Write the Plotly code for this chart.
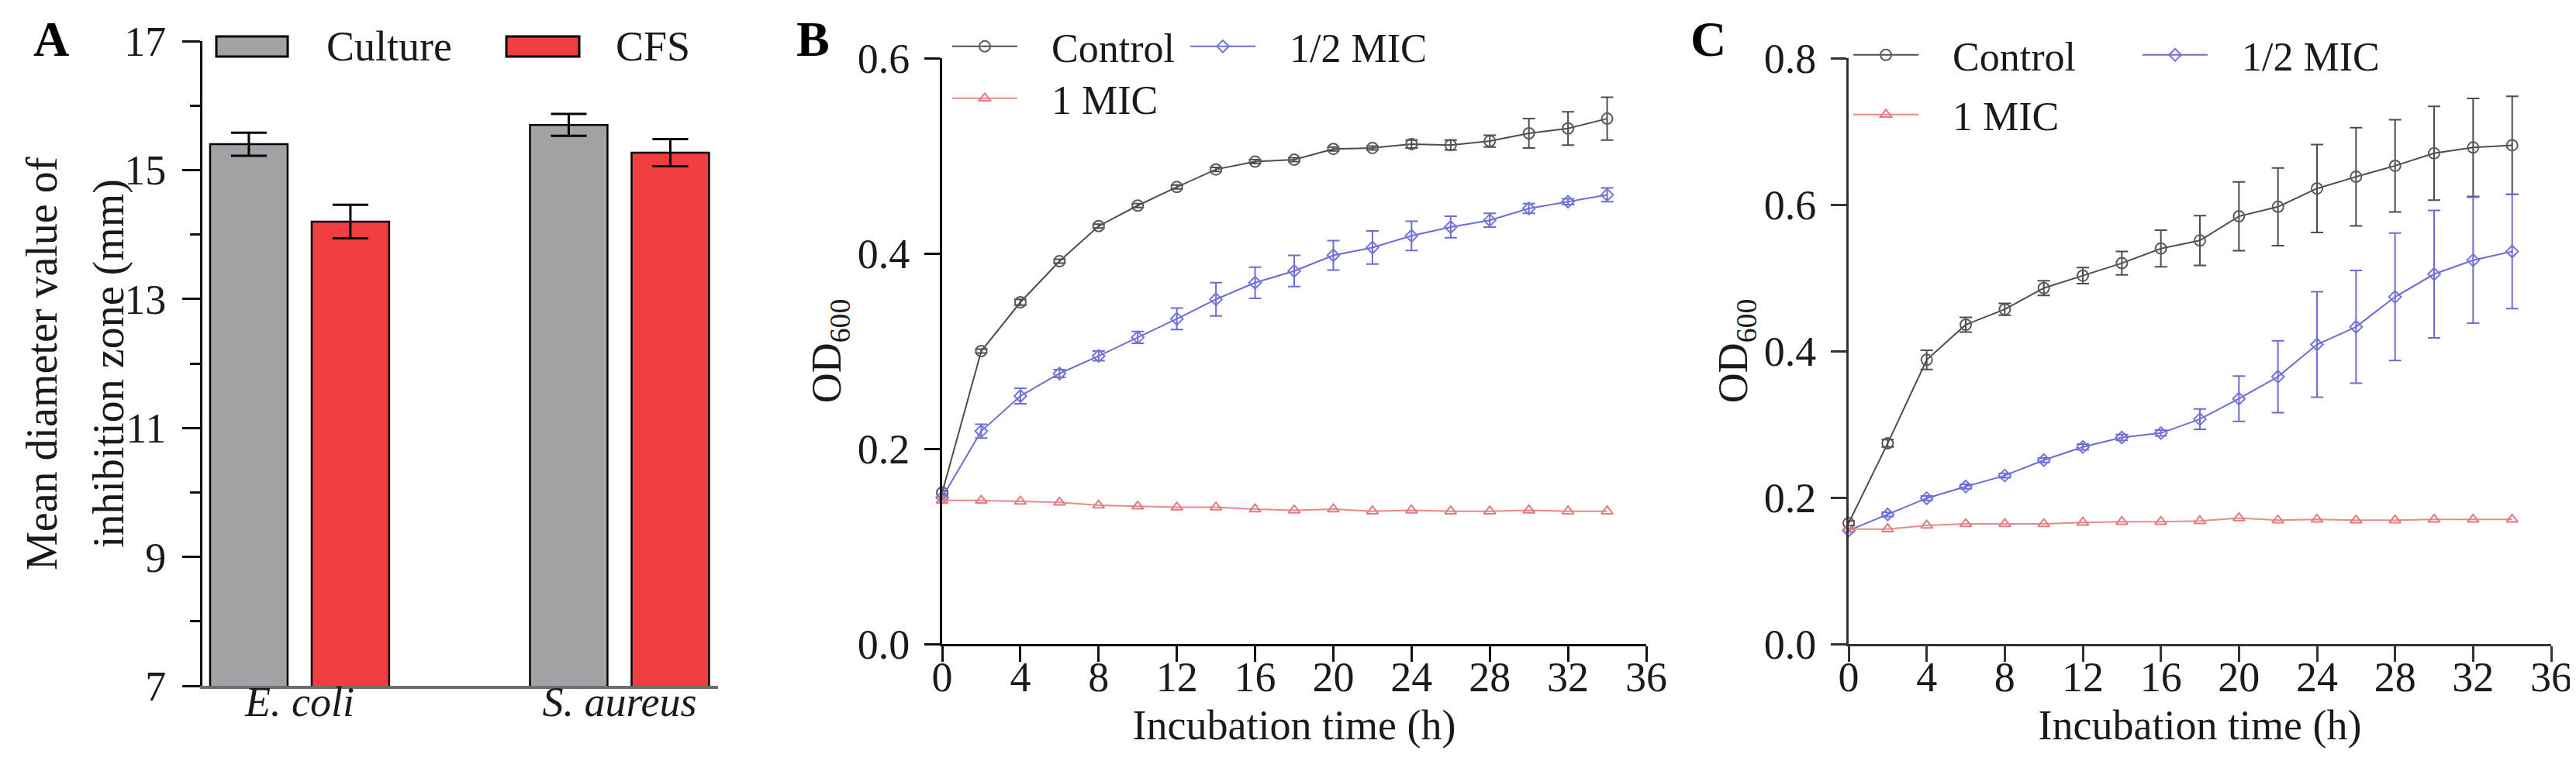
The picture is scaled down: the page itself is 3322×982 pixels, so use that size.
import plotly.graph_objects as go

# ---- panel A: inhibition zone diameters ----
strains = ["<i>E. coli</i>", "<i>S. aureus</i>"]
culture_mean = [15.40, 15.70]
culture_err = [0.18, 0.17]
cfs_mean = [14.20, 15.27]
cfs_err = [0.26, 0.21]

# ---- panels B and C: growth curves ----
hours = [0, 2, 4, 6, 8, 10, 12, 14, 16, 18, 20, 22, 24, 26, 28, 30, 32, 34]

b_control = [0.155, 0.300, 0.350, 0.392, 0.428, 0.449, 0.468, 0.486, 0.494, 0.496,
             0.507, 0.508, 0.512, 0.511, 0.515, 0.523, 0.528, 0.538]
b_control_err = [0.002, 0.002, 0.003, 0.002, 0.002, 0.002, 0.002, 0.002, 0.002, 0.002,
                 0.002, 0.002, 0.004, 0.005, 0.006, 0.015, 0.017, 0.022]
b_half = [0.150, 0.218, 0.254, 0.277, 0.295, 0.314, 0.333, 0.353, 0.370, 0.382,
          0.398, 0.406, 0.418, 0.427, 0.434, 0.446, 0.453, 0.460]
b_half_err = [0.002, 0.007, 0.008, 0.004, 0.005, 0.006, 0.011, 0.017, 0.016, 0.016,
              0.015, 0.017, 0.015, 0.011, 0.007, 0.005, 0.003, 0.007]
b_one = [0.147, 0.147, 0.146, 0.145, 0.142, 0.141, 0.140, 0.140, 0.138, 0.137,
         0.138, 0.136, 0.137, 0.136, 0.136, 0.137, 0.136, 0.136]

c_control = [0.165, 0.274, 0.388, 0.436, 0.457, 0.486, 0.503, 0.520, 0.540, 0.551,
             0.584, 0.597, 0.622, 0.638, 0.653, 0.670, 0.678, 0.681]
c_control_err = [0.003, 0.005, 0.013, 0.010, 0.008, 0.010, 0.011, 0.016, 0.025, 0.034,
                 0.047, 0.053, 0.060, 0.067, 0.063, 0.064, 0.067, 0.067]
c_half = [0.155, 0.177, 0.199, 0.215, 0.230, 0.251, 0.269, 0.282, 0.288, 0.307,
          0.335, 0.365, 0.409, 0.433, 0.474, 0.505, 0.524, 0.536]
c_half_err = [0.002, 0.003, 0.003, 0.003, 0.003, 0.003, 0.004, 0.004, 0.004, 0.014,
              0.031, 0.049, 0.072, 0.077, 0.087, 0.087, 0.086, 0.078]
c_one = [0.157, 0.157, 0.162, 0.164, 0.164, 0.164, 0.166, 0.167, 0.167, 0.168,
         0.172, 0.169, 0.170, 0.169, 0.169, 0.170, 0.170, 0.170]

FONT = "Liberation Serif"
W, H = 3322, 982
PAD = "\u00a0\u00a0\u00a0"  # gap between legend symbol and label

fig = go.Figure()

# bars (panel A)
fig.add_trace(go.Bar(x=strains, y=culture_mean, name="Culture", showlegend=False,
                     marker=dict(color="#a2a2a6", line=dict(color="black", width=2.5)),
                     error_y=dict(type="data", array=culture_err, color="black",
                                  thickness=3, width=23),
                     xaxis="x", yaxis="y"))
fig.add_trace(go.Bar(x=strains, y=cfs_mean, name="CFS", showlegend=False,
                     marker=dict(color="#f23d40", line=dict(color="black", width=2.5)),
                     error_y=dict(type="data", array=cfs_err, color="black",
                                  thickness=3, width=23),
                     xaxis="x", yaxis="y"))

series_style = {
    "Control": dict(color="#4d4d4d", mcolor="#5a5a5a", symbol="circle-open", size=14),
    "1/2 MIC": dict(color="#6c6cd4", mcolor="#7474dc", symbol="diamond-open", size=12),
    "1 MIC": dict(color="#e88a8c", mcolor="#e37b7e", symbol="triangle-up-open", size=13),
}


def add_curve(name, y, err, xa, ya, legend):
    st = series_style[name]
    fig.add_trace(go.Scatter(
        x=hours, y=y, name=PAD + name, mode="lines+markers", legend=legend,
        line=dict(color=st["color"], width=2),
        marker=dict(symbol=st["symbol"], size=st["size"], color=st["mcolor"],
                    line=dict(width=2, color=st["mcolor"])),
        error_y=dict(type="data", array=err, color=st["color"], thickness=2, width=8,
                     visible=err is not None),
        cliponaxis=False, xaxis=xa, yaxis=ya))


add_curve("Control", b_control, b_control_err, "x2", "y2", "legend")
add_curve("1/2 MIC", b_half, b_half_err, "x2", "y2", "legend")
add_curve("1 MIC", b_one, None, "x2", "y2", "legend2")
add_curve("Control", c_control, c_control_err, "x3", "y3", "legend3")
add_curve("1/2 MIC", c_half, c_half_err, "x3", "y3", "legend3")
add_curve("1 MIC", c_one, None, "x3", "y3", "legend4")

tickfont = dict(family=FONT, size=54, color="#1a1a1a")
titlefont = dict(family=FONT, size=54, color="#1a1a1a")


def px_x(p):
    return p / W


def px_y(p):
    return 1 - p / H


ax_common = dict(showline=True, linewidth=3, ticks="outside", tickwidth=3, ticklen=20,
                 showgrid=False, zeroline=False, tickfont=tickfont, automargin=False,
                 tickcolor="#111111", linecolor="#111111")

fig.update_layout(
    width=W, height=H, autosize=False,
    margin=dict(l=0, r=0, t=0, b=0),
    paper_bgcolor="white", plot_bgcolor="white",
    barmode="group", bargap=0.365, bargroupgap=0.237,
    font=dict(family=FONT, color="#1a1a1a"),
    # panel A
    xaxis=dict(ax_common, domain=[px_x(253), px_x(918)], range=[-0.304, 1.308],
               ticks="", linecolor="#6e6e6e", linewidth=4, ticklabelstandoff=-30,
               anchor="y"),
    yaxis=dict(ax_common, domain=[px_y(877), px_y(45)], range=[7, 17], tick0=7, dtick=2,
               ticklen=23, ticklabelstandoff=10, anchor="x",
               minor=dict(ticks="outside", dtick=1, ticklen=13, tickwidth=3,
                          tickcolor="#111111")),
    # panel B
    xaxis2=dict(ax_common, domain=[px_x(1207), px_x(2115)], range=[0, 36], dtick=4,
                anchor="y2", ticklabelstandoff=-27,
                title=dict(text="Incubation time (h)", font=titlefont, standoff=14)),
    yaxis2=dict(ax_common, domain=[px_y(823), px_y(67)], range=[0, 0.6], dtick=0.2,
                tickformat=".1f", anchor="x2", ticklabelstandoff=8,
                title=dict(text="OD<sub>600</sub>", font=titlefont, standoff=4)),
    # panel C
    xaxis3=dict(ax_common, domain=[px_x(2376), px_x(3282)], range=[0, 36], dtick=4,
                anchor="y3", ticklabelstandoff=-27, linecolor="#333333", tickcolor="#333333",
                title=dict(text="Incubation time (h)", font=titlefont, standoff=14)),
    yaxis3=dict(ax_common, domain=[px_y(823), px_y(67)], range=[0, 0.8], dtick=0.2,
                tickformat=".1f", anchor="x3", ticklabelstandoff=8,
                linecolor="#333333", tickcolor="#333333",
                title=dict(text="OD<sub>600</sub>", font=titlefont, standoff=4)),
)

leg_common = dict(orientation="h", xanchor="left", yanchor="middle", bgcolor="rgba(0,0,0,0)",
                  font=dict(family=FONT, size=52, color="#1a1a1a"), itemwidth=84,
                  entrywidthmode="pixels", traceorder="normal", itemclick=False)
fig.update_layout(
    legend=dict(leg_common, x=px_x(1215), y=px_y(52), entrywidth=208),
    legend2=dict(leg_common, x=px_x(1215), y=px_y(119), entrywidth=208),
    legend3=dict(leg_common, x=px_x(2377), y=px_y(63), entrywidth=274),
    legend4=dict(leg_common, x=px_x(2377), y=px_y(140), entrywidth=274),
)

# y title of panel A, two lines with the reference's wide line spacing
for line, cx in [("Mean diameter value of", 46), ("inhibition zone (mm)", 132)]:
    fig.add_annotation(text=line, xref="paper", yref="paper", x=px_x(cx), y=px_y(461),
                       xanchor="center", yanchor="middle", textangle=-90, showarrow=False,
                       font=dict(family=FONT, size=56, color="#1a1a1a"))

# legend for panel A (bar swatches) drawn as shapes + text
for x0, x1, col, label, tx in [(271, 363, "#a2a2a6", "Culture", 411),
                               (645, 739, "#f23d40", "CFS", 784)]:
    fig.add_shape(type="rect", xref="paper", yref="paper",
                  x0=px_x(x0), x1=px_x(x1), y0=px_y(65), y1=px_y(39),
                  fillcolor=col, line=dict(color="black", width=3))
    fig.add_annotation(text=label, xref="paper", yref="paper", x=px_x(tx), y=px_y(52),
                       xanchor="left", yanchor="middle", showarrow=False,
                       font=dict(family=FONT, size=54, color="#1a1a1a"))

# panel letters
for letter, cx in [("A", 58), ("B", 1040), ("C", 2195)]:
    fig.add_annotation(text="<b>%s</b>" % letter, xref="paper", yref="paper",
                       x=px_x(cx), y=px_y(42), xanchor="center", yanchor="middle",
                       showarrow=False, font=dict(family=FONT, size=64, color="black"))

fig.write_html("out.html")
